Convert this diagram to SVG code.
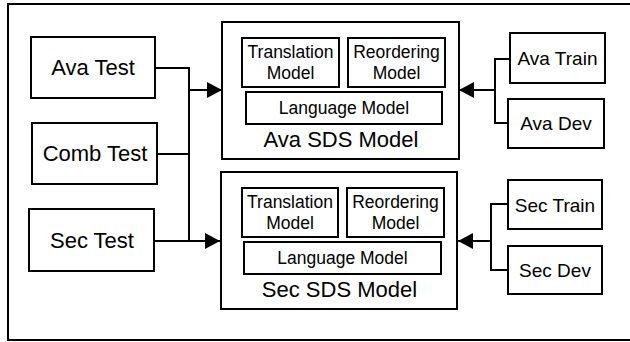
<svg xmlns="http://www.w3.org/2000/svg" width="630" height="342" viewBox="0 0 630 342">
  <style>
    .box { fill: #fff; stroke: #000; stroke-width: 2; }
    .wire { fill: none; stroke: #000; stroke-width: 2; }
    text { font-family: "Liberation Sans", Arial, sans-serif; fill: #000; text-anchor: middle; }
    .big { font-size: 22px; }
    .mid { font-size: 19px; }
    .small { font-size: 17.5px; }
  </style>
  <defs>
    <marker id="arrow" markerUnits="userSpaceOnUse" markerWidth="16" markerHeight="18" refX="15" refY="8" orient="auto">
      <path d="M0,0 L15,8 L0,16 z" fill="#000"/>
    </marker>
  </defs>

  <!-- outer frame -->
  <rect x="8" y="4" width="632" height="336" fill="#fff" stroke="#000" stroke-width="2"/>

  <!-- connectors -->
  <g id="connectors">
    <path class="wire" d="M155,68 H189 V241"/>
    <path class="wire" d="M157,154 H189"/>
    <path class="wire" d="M189,90 H222" marker-end="url(#arrow)"/>
    <path class="wire" d="M154,241 H220" marker-end="url(#arrow)"/>
    <path class="wire" d="M510,59 H495 V123 H508"/>
    <path class="wire" d="M495,90 H459" marker-end="url(#arrow)"/>
    <path class="wire" d="M508,204 H491 V270 H508"/>
    <path class="wire" d="M491,241 H458" marker-end="url(#arrow)"/>
  </g>

  <!-- test sets -->
  <g id="ava-test">
    <rect class="box" x="31" y="37" width="124" height="61"/>
    <text class="big" x="93" y="75">Ava Test</text>
  </g>
  <g id="comb-test">
    <rect class="box" x="32" y="123" width="125" height="61"/>
    <text class="big" x="95" y="161">Comb Test</text>
  </g>
  <g id="sec-test">
    <rect class="box" x="29" y="209" width="125" height="62"/>
    <text class="big" x="92" y="248">Sec Test</text>
  </g>

  <!-- Ava SDS model -->
  <g id="ava-sds">
    <rect class="box" x="222" y="22" width="237" height="137"/>
    <rect class="box" x="242" y="38" width="97" height="49"/>
    <text class="small" x="290.5" y="58">Translation</text>
    <text class="small" x="290.5" y="79">Model</text>
    <rect class="box" x="348" y="38" width="97" height="49"/>
    <text class="small" x="396.5" y="58">Reordering</text>
    <text class="small" x="396.5" y="79">Model</text>
    <rect class="box" x="246" y="92" width="196" height="32"/>
    <text class="small" x="344" y="114">Language Model</text>
    <text class="big" x="341" y="147">Ava SDS Model</text>
  </g>

  <!-- Sec SDS model -->
  <g id="sec-sds">
    <rect class="box" x="221" y="172" width="236" height="137"/>
    <rect class="box" x="242" y="188" width="96" height="49"/>
    <text class="small" x="290" y="208">Translation</text>
    <text class="small" x="290" y="229">Model</text>
    <rect class="box" x="347" y="188" width="97" height="49"/>
    <text class="small" x="395.5" y="208">Reordering</text>
    <text class="small" x="395.5" y="229">Model</text>
    <rect class="box" x="244" y="242" width="197" height="32"/>
    <text class="small" x="342.5" y="264">Language Model</text>
    <text class="big" x="339.5" y="297">Sec SDS Model</text>
  </g>

  <!-- training / dev sets -->
  <g id="ava-train">
    <rect class="box" x="510" y="33" width="95" height="50"/>
    <text class="mid" x="557.5" y="65">Ava Train</text>
  </g>
  <g id="ava-dev">
    <rect class="box" x="508" y="99" width="96" height="49"/>
    <text class="mid" x="556" y="130">Ava Dev</text>
  </g>
  <g id="sec-train">
    <rect class="box" x="508" y="180" width="94" height="49"/>
    <text class="mid" x="555" y="212">Sec Train</text>
  </g>
  <g id="sec-dev">
    <rect class="box" x="508" y="246" width="94" height="48"/>
    <text class="mid" x="555" y="277">Sec Dev</text>
  </g>
</svg>
